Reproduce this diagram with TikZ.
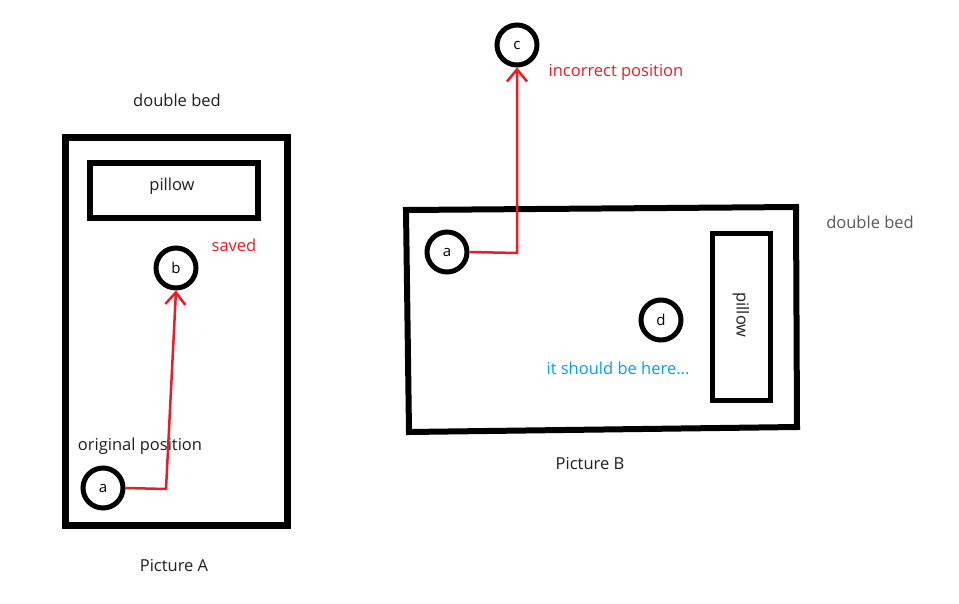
\documentclass[tikz,border=0pt]{standalone}
\usepackage{fontspec}
\setmainfont{Open Sans}
\usetikzlibrary{arrows.meta}
\definecolor{pred}{RGB}{237,28,36}
\definecolor{pblue}{RGB}{0,162,232}
\definecolor{tgray}{RGB}{30,30,30}
\begin{document}
\begin{tikzpicture}[x=1pt,y=-1pt,
  lbl/.style={font=\fontsize{16.5}{18}\selectfont, text=tgray, inner sep=0pt},
  rlbl/.style={font=\fontsize{16.5}{18}\selectfont, text=pred, inner sep=0pt},
  blbl/.style={font=\fontsize{16.5}{18}\selectfont, text=pblue, inner sep=0pt},
  dot/.style={circle, draw=black, line width=5pt, minimum size=40pt, inner sep=0pt, font=\fontsize{15}{16}\selectfont},
  bed/.style={draw=black, line width=7pt},
  pil/.style={draw=black, line width=6pt},
  move/.style={draw=pred, line width=2.5pt, line join=round, -{Straight Barb[length=12pt,width=20pt,line width=2.5pt]}}]
\useasboundingbox (0,0) rectangle (959,603);
\fill[white] (0,0) rectangle (959,603);
% Picture A
\node[lbl] (dbA) at (177,100) {double bed};
\draw[bed] (65,137) rectangle (287,525);
\node[pil, minimum width=168pt, minimum height=55pt] (pilA) at (174,190.5) {};
\node[lbl] (pilAt) at (172,186) {pillow};
\node[dot] (bA) at (176,268) {b};
\node[rlbl] (saved) at (234,245) {saved};
\node[lbl] (orig) at (140,446) {original position};
\node[dot] (aA) at (103,488) {a};
\node[lbl] (picA) at (174,566) {Picture A};
\coordinate (cornA) at (166,489);
\path[move] (aA.east) -- (cornA) -- (bA.south);
% Picture B
\draw[line width=6pt, line join=miter] (406,210) -- (796,207) -- (797,427) -- (409,432) -- cycle;
\node[lbl, text=black!65] (dbB) at (870,222) {double bed};
\node[pil, line width=5pt, minimum width=58pt, minimum height=167pt] (pilB) at (741,316.5) {};
\node[lbl, rotate=-90] (pilBt) at (741,315) {pillow};
\node[dot] (aB) at (447,252) {a};
\node[dot] (dB) at (661,320) {d};
\node[blbl] (here) at (618,368) {it should be here...};
\node[lbl] (picB) at (590,464) {Picture B};
\node[dot] (cB) at (517,45) {c};
\node[rlbl] (incorr) at (616,72) {incorrect position};
\coordinate (cornB) at (517,253);
\path[move] (aB.east) -- (cornB) -- (cB.south);
\end{tikzpicture}
\end{document}
